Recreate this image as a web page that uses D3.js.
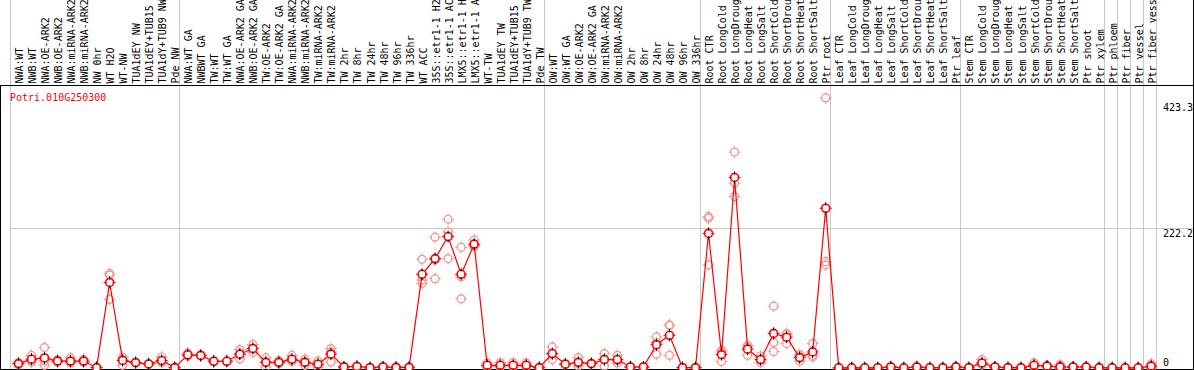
<!DOCTYPE html>
<html><head><meta charset="utf-8">
<script src="https://cdn.jsdelivr.net/npm/d3@7"></script>
<style>body{margin:0;background:#fff}svg{display:block}text{font-family:"DejaVu Sans Mono",monospace;font-size:10px}</style>
</head><body><svg id="c" width="1194" height="370"></svg>
<script>
const categories = ["NWA:WT","NWB:WT","NWA:OE-ARK2","NWB:OE-ARK2","NWA:miRNA-ARK2","NWB:miRNA-ARK2","NW 0hr","WT H2O","WT-NW","TUA1dEY NW","TUA1dEY+TUB15 NW","TUA1dY+TUB9 NW","Pde NW",
"NWA:WT GA","NWBWT GA","TW:WT","TW:WT GA","NWA:OE-ARK2 GA","NWB:OE-ARK2 GA","TW:OE-ARK2","TW:OE-ARK2 GA","NWA:miRNA-ARK2 GA","NWB:miRNA-ARK2 GA","TW:miRNA-ARK2","TW:miRNA-ARK2 GA","TW 2hr","TW 8hr","TW 24hr","TW 48hr","TW 96hr","TW 336hr","WT ACC","35S::etr1-1 H2O","35S::etr1-1 ACC","LMX5::etr1-1 H2O","LMX5::etr1-1 ACC","WT-TW","TUA1dEY TW","TUA1dEY+TUB15 TW","TUA1dY+TUB9 TW","Pde TW",
"OW:WT","OW:WT GA","OW:OE-ARK2","OW:OE-ARK2 GA","OW:miRNA-ARK2","OW:miRNA-ARK2 GA","OW 2hr","OW 8hr","OW 24hr","OW 48hr","OW 96hr","OW 336hr",
"Root CTR","Root LongCold","Root LongDrought","Root LongHeat","Root LongSalt","Root ShortCold","Root ShortDrought","Root ShortHeat","Root ShortSalt","Ptr root",
"Leaf CTR","Leaf LongCold","Leaf LongDrought","Leaf LongHeat","Leaf LongSalt","Leaf ShortCold","Leaf ShortDrought","Leaf ShortHeat","Leaf ShortSalt","Ptr leaf",
"Stem CTR","Stem LongCold","Stem LongDrought","Stem LongHeat","Stem LongSalt","Stem ShortCold","Stem ShortDrought","Stem ShortHeat","Stem ShortSalt","Ptr shoot","Ptr xylem",
"Ptr phloem","Ptr fiber","Ptr vessel","Ptr fiber vessel"];
const groupSizes = [13,28,12,10,10,11,1,1,1,1];
const meanValues = [7,14,16,11,11,11,0.6,136,12,8.6,6.4,12,0.6,
21,20,10.7,10.7,22,31,9,9,14,9,6,22,1.6,2.5,0.5,1.6,1,1,149,174,209,149,197,4.3,4.3,4.3,4.3,0.6,
23,6,9,7,13.4,13.4,1.6,1.6,37,52,0.6,0.6,
214,21.3,303,30,13.4,55,49,16.5,25.5,254,
0.3,0.3,0.3,0.3,1.6,0.3,1.6,0.5,0.5,1.6,
0.5,8,1.6,0.5,0.5,4.3,3,1.8,1.6,1.6,0.5,
0.3,0.3,0.3,3];
const rep1 = [5,20,32.5,13,16,13.9,0.5,150.4,17.5,9,7,17.5,0.5,
24,20.5,10.7,11,29.3,37.3,16,12,20,14,11,30.9,1.6,3,0.5,2,1,1,172.8,208,236.5,192,203.5,8,8.6,8.6,8.2,0.6,
33.5,7,16.5,7,22.9,20.2,1.6,1.6,49.4,68.5,0.6,0.6,
240.7,28.2,343.3,36.2,19.1,98.3,54.8,21.3,38.9,429.4,
0.3,0.3,0.3,0.3,2.5,0.3,2.5,0.5,0.5,2.5,
0.5,13.4,2,0.5,0.5,8,4,5.5,2,2,0.5,
0.3,0.3,0.3,6.9];
const rep2 = [8,9.6,4.3,9.6,9.6,9.6,0.7,147.7,4.3,8.2,5.8,9.6,0.7,
19,19,11.5,10.4,14.4,24.5,1.6,7,10.5,4.3,1.6,9.6,1.6,2,0.5,1.4,1,1,139.8,142,216.3,110,192.9,3,2.5,2.5,2.8,0.6,
13.4,5,3,6.5,3.2,8,1.6,1.6,21.8,20.2,0.6,0.6,
238.1,25.5,293.9,20.2,8.6,40.5,38.9,10.7,17.5,169,
0.3,0.3,0.3,0.3,1.2,0.3,1.2,0.5,0.5,1.2,
0.5,5,1.4,0.5,0.5,2.5,2.5,0,1.4,1.4,0.5,
0.3,0.3,0.3,1];
const rep3 = [8,12.4,11.2,10.4,7.4,9.5,0.6,109,14.2,8.6,6.4,8.9,0.6,
20,19.6,9.9,10.7,22.3,31.2,9.4,8,11.5,8.7,5.4,25.5,1.6,2.5,0.5,1.4,1,1,134.5,172,174,145,195,2,1.8,1.8,2,0.6,
22,6,7.5,7.5,14,12,1.6,1.6,40,67.6,0.6,0.6,
164,10.2,272.6,33.6,12.5,26.2,53.3,17.5,20.1,163.6,
0.3,0.3,0.3,0.3,1.1,0.3,1.1,0.5,0.5,1.1,
0.5,5.6,1.4,0.5,0.5,2.5,2.5,0,1.4,1.4,0.5,
0.3,0.3,0.3,1.1];
const yTicks = [0,222.2,423.3];
const geneTitle = "Potri.010G250300";

const W=1194,H=370, left=10, colW=13.02, headerY=85.5, bottomY=369;
const svg=d3.select("#c");
const x=d3.scaleBand().domain(categories).range([left,left+colW*categories.length]).paddingInner(0).paddingOuter(0);
const y=d3.scaleLinear().domain([0,423.3]).range([368,101.8]);
const cx=c=>x(c)+x.bandwidth()*0.65;

// separators
let cum=0; const bounds=[categories[0]];
groupSizes.forEach(s=>{cum+=s; bounds.push(cum);});
const sepX=[x(categories[0])].concat(groupSizes.map((s,i)=>{const idx=groupSizes.slice(0,i+1).reduce((a,b)=>a+b,0); return idx<categories.length?x(categories[idx]):x(categories[idx-1])+x.bandwidth();}));
svg.append("g").selectAll("line").data(sepX).join("line")
 .attr("x1",d=>Math.round(d)+0.5).attr("x2",d=>Math.round(d)+0.5).attr("y1",0).attr("y2",bottomY)
 .attr("stroke","#c8c8c8").attr("stroke-width",1);
// gridlines
svg.append("g").selectAll("line").data(yTicks.slice(1,-1)).join("line")
 .attr("x1",left).attr("x2",W).attr("y1",d=>Math.round(y(d))+0.5).attr("y2",d=>Math.round(y(d))+0.5)
 .attr("stroke","#c8c8c8");
// header labels
svg.append("g").selectAll("text").data(categories).join("text")
 .attr("transform",c=>`translate(${cx(c)+1},83.5) rotate(-90)`)
 .attr("dominant-baseline","central").attr("fill","#000").text(c=>c);
// header line & borders
svg.append("rect").attr("x",0).attr("y",0).attr("width",W).attr("height",headerY).attr("fill","none");
svg.append("line").attr("x1",0).attr("x2",W).attr("y1",headerY).attr("y2",headerY).attr("stroke","#000");
svg.append("line").attr("x1",0.5).attr("x2",0.5).attr("y1",headerY).attr("y2",H).attr("stroke","#000");
svg.append("line").attr("x1",W-0.5).attr("x2",W-0.5).attr("y1",0).attr("y2",H).attr("stroke","#000");
svg.append("line").attr("x1",0).attr("x2",W).attr("y1",bottomY+0.5).attr("y2",bottomY+0.5).attr("stroke","#000");
// title
svg.append("text").attr("x",left).attr("y",100.5).attr("fill","#ff0000").text(geneTitle);
// y labels
svg.append("g").selectAll("text").data(yTicks).join("text")
 .attr("x",1163).attr("y",d=>d===0?y(d)-2:y(d)+9).attr("fill","#000").text(d=>d);

function marker(g,color,sw,tickColor){
  g.append("circle").attr("r",4).attr("fill",tickColor?"#fff":"none").attr("stroke",color).attr("stroke-width",sw);
  [[0,-1],[0,1],[-1,0],[1,0]].forEach(([a,b])=>{
    g.append("line").attr("x1",a*3).attr("y1",b*3).attr("x2",a*6).attr("y2",b*6)
     .attr("stroke",(tickColor&&a===0)?tickColor:color).attr("stroke-width",1);
  });
}
const plot=svg.append("g");
const reps=[];
categories.forEach((c,i)=>{[rep1[i],rep2[i],rep3[i]].forEach(v=>reps.push({c,v}));});
plot.append("g").selectAll("g").data(reps).join("g")
 .attr("transform",d=>`translate(${cx(d.c)},${y(d.v)})`).each(function(){marker(d3.select(this),"#f09898",1.2,null);});
const means=categories.map((c,i)=>({c,v:meanValues[i]}));
plot.append("path").datum(means).attr("fill","none").attr("stroke","#ff0000").attr("stroke-width",1.2)
 .attr("d",d3.line().x(d=>cx(d.c)).y(d=>y(d.v)));
plot.append("g").selectAll("g").data(means).join("g")
 .attr("transform",d=>`translate(${cx(d.c)},${y(d.v)})`).each(function(){marker(d3.select(this),"#ff0000",1.6,"#000");});
</script></body></html>
